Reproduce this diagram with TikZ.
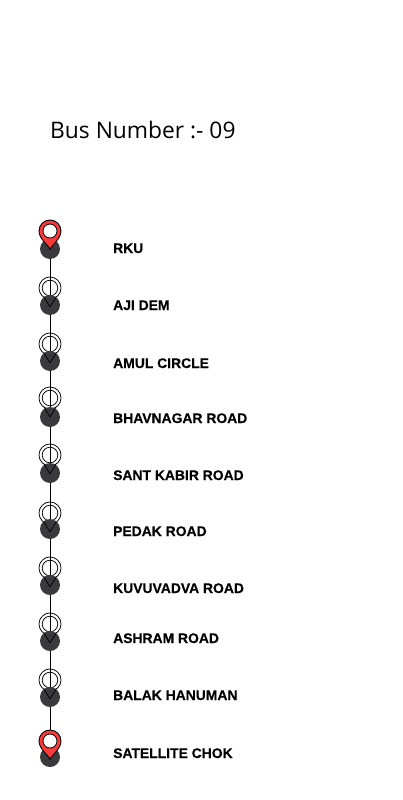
\documentclass[tikz,border=0pt]{standalone}
\usepackage{fontspec}
\setmainfont{Liberation Sans}
\newfontfamily\titlefont{Open Sans}
\newfontfamily\stopfont[BoldFeatures={FakeBold=0.25}]{Liberation Sans}
\definecolor{dotgrey}{HTML}{3A3A3C}
\definecolor{pinred}{HTML}{F93A3A}
\tikzset{
  x=1pt,y=-1pt,
  stopdot/.style={circle,fill=dotgrey,draw=none,minimum size=20pt,inner sep=0pt},
  stoplabel/.style={anchor=base west,inner sep=0pt,font=\stopfont\fontsize{13.9}{16}\selectfont\bfseries},
  titlelabel/.style={anchor=base west,inner sep=0pt,font=\titlefont\fontsize{22.8}{26}\selectfont},
  pinline/.style={draw=black,line width=0.75pt,line join=round},
}
\newcommand{\ringcircles}[2]{%
  \draw[pinline] (#1,#2) circle[radius=11];
  \draw[pinline] (#1,#2) circle[radius=7.8];
}
\newcommand{\ringtip}[2]{%
  \draw[pinline] (#1-6,#2+9) -- (#1,#2+19) -- (#1+6,#2+9);
}
\newcommand{\redpin}[2]{%
  \fill[pinred,draw=black,line width=0.9pt,line join=round]
    (#1,#2+18.5) .. controls (#1-2,#2+13.5) and (#1-11,#2+8) .. (#1-11,#2)
    arc[start angle=180,end angle=360,radius=11]
    .. controls (#1+11,#2+8) and (#1+2,#2+13.5) .. (#1,#2+18.5) -- cycle;
  \draw[fill=white,draw=black,line width=0.8pt] (#1,#2) circle[radius=7];
}
\begin{document}
\begin{tikzpicture}
\useasboundingbox (0,0) rectangle (402,800);
\coordinate (l1) at (50,249);
\coordinate (l10) at (50,757);
\draw[line width=0.7pt,black] (l1) -- (l10);
\foreach \y in {288,344,398,455,513,568,624,680}{\ringcircles{50}{\y}}
\node[stopdot] (d1) at (50,249) {};
\node[stopdot] (d2) at (50,305) {};
\node[stopdot] (d3) at (50,361) {};
\node[stopdot] (d4) at (50,417) {};
\node[stopdot] (d5) at (50,473) {};
\node[stopdot] (d6) at (50,529) {};
\node[stopdot] (d7) at (50,585) {};
\node[stopdot] (d8) at (50,641) {};
\node[stopdot] (d9) at (50,697) {};
\node[stopdot] (d10) at (50,757) {};
\foreach \y in {288,344,398,455,513,568,624,680}{\ringtip{50}{\y}}
\redpin{50}{231}
\redpin{50}{741}
\node[titlelabel] (title) at (50,138) {Bus Number :- 09};
\node[stoplabel] (s1) at (113,253) {RKU};
\node[stoplabel] (s2) at (113,310) {AJI DEM};
\node[stoplabel] (s3) at (113,368) {AMUL CIRCLE};
\node[stoplabel] (s4) at (113,423) {BHAVNAGAR ROAD};
\node[stoplabel] (s5) at (113,480) {SANT KABIR ROAD};
\node[stoplabel] (s6) at (113,536) {PEDAK ROAD};
\node[stoplabel] (s7) at (113,593) {KUVUVADVA ROAD};
\node[stoplabel] (s8) at (113,643) {ASHRAM ROAD};
\node[stoplabel] (s9) at (113,700) {BALAK HANUMAN};
\node[stoplabel] (s10) at (113,758) {SATELLITE CHOK};
\end{tikzpicture}
\end{document}
